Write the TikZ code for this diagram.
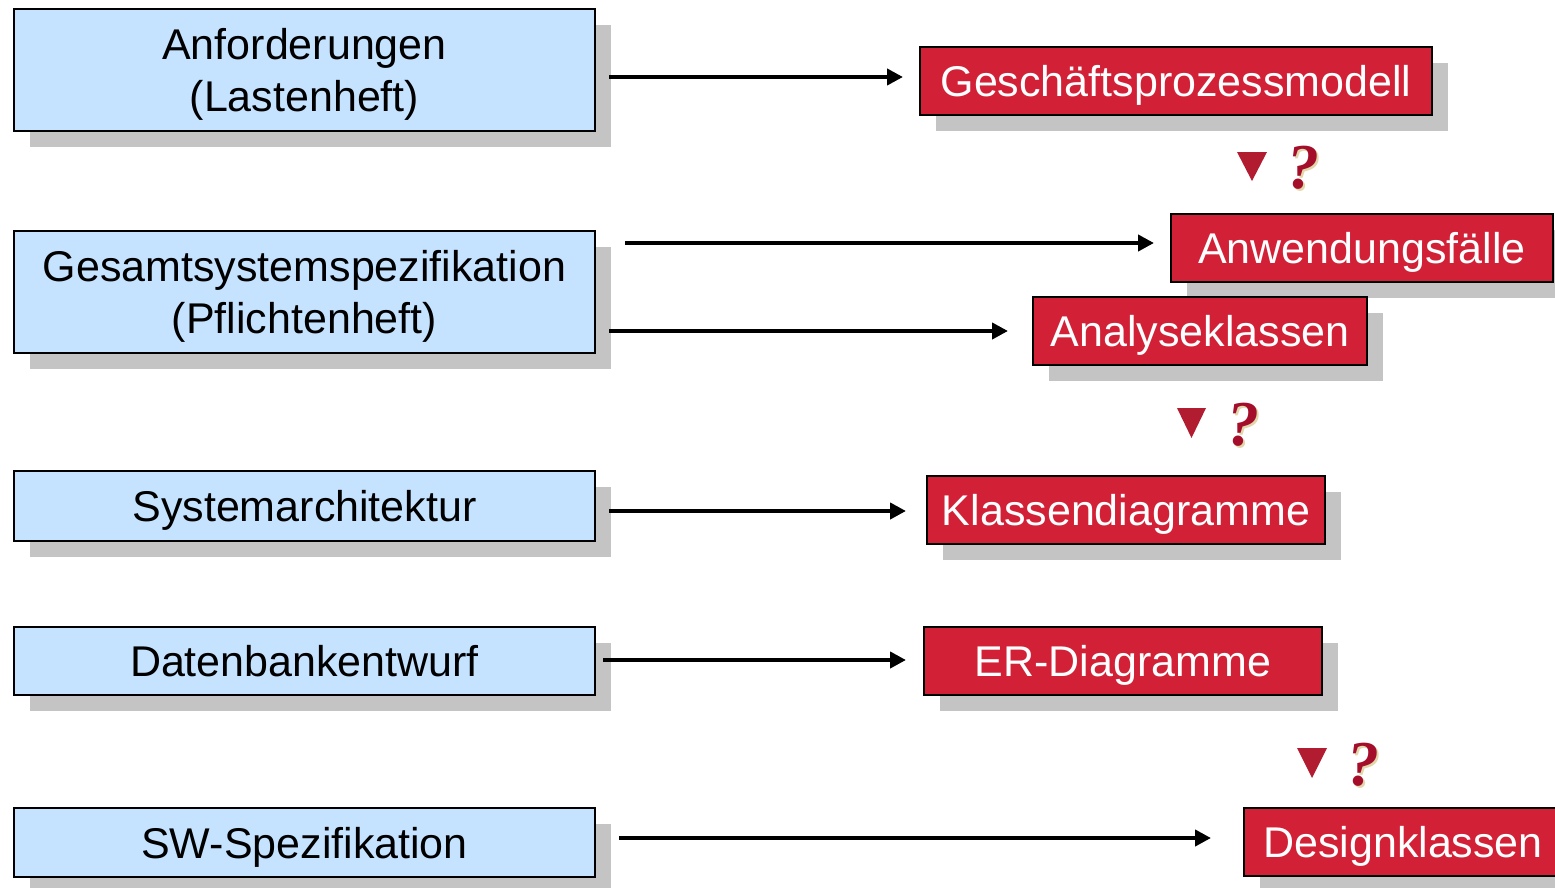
\documentclass[tikz,border=0pt]{standalone}
\usepackage{fontspec}
\setmainfont{Liberation Sans}
\newfontfamily\qfont{Liberation Serif}
\usetikzlibrary{shadows,arrows.meta}
\definecolor{bluefill}{RGB}{197,227,255}
\definecolor{redfill}{RGB}{210,33,55}
\definecolor{trired}{RGB}{178,28,48}
\definecolor{qred}{RGB}{165,14,42}
\definecolor{qglow}{RGB}{225,215,170}
\definecolor{shadowgray}{RGB}{196,196,196}
\begin{document}
\begin{tikzpicture}[x=1pt,y=-1pt,
 shadowed/.style={drop shadow={shadow xshift=16pt,shadow yshift=-16pt,fill=shadowgray,opacity=1}},
 boxbase/.style={draw=black,line width=2pt,anchor=north west,inner sep=0pt,align=center,text depth=0pt,font=\fontsize{43}{52}\selectfont,shadowed},
 bluebox/.style={boxbase,fill=bluefill,text=black},
 redbox/.style={boxbase,fill=redfill,text=white},
 arr/.style={line width=4pt,-{Triangle[length=16pt,width=16pt]}},
 tri/.style={fill=trired},
 qmark/.style={font=\qfont\bfseries\itshape\fontsize{64}{64}\selectfont,inner sep=0pt,text=qred},
 qglowst/.style={font=\qfont\bfseries\itshape\fontsize{64}{64}\selectfont,inner sep=0pt,text=qglow}
]
\useasboundingbox (0,0) rectangle (1555,888);

% left blue boxes
\node[bluebox,minimum width=581pt,minimum height=122pt] (b1) at (13,8) {Anforderungen\\(Lastenheft)};
\node[bluebox,minimum width=581pt,minimum height=122pt] (b2) at (13,230) {Gesamtsystemspezifikation\\(Pflichtenheft)};
\node[bluebox,minimum width=581pt,minimum height=70pt] (b3) at (13,470) {Systemarchitektur};
\node[bluebox,minimum width=581pt,minimum height=68pt] (b4) at (13,626) {Datenbankentwurf};
\node[bluebox,minimum width=581pt,minimum height=69pt] (b5) at (13,807) {SW-Spezifikation};

% right red boxes
\node[redbox,minimum width=512pt,minimum height=68pt] (r1) at (919,46) {Geschäftsprozessmodell};
\node[redbox,minimum width=382pt,minimum height=68pt] (r2) at (1170,213) {Anwendungsfälle};
\node[redbox,minimum width=334pt,minimum height=68pt] (r3) at (1032,296) {Analyseklassen};
\node[redbox,minimum width=398pt,minimum height=68pt] (r4) at (926,475) {Klassendiagramme};
\node[redbox,minimum width=398pt,minimum height=68pt] (r5) at (923,626) {ER-Diagramme};
\node[redbox,minimum width=318pt,minimum height=68pt] (r6) at (1243,807) {Designklassen};

% arrows
\coordinate (a1s) at (609,77);  \coordinate (a1e) at (903,77);
\coordinate (a2s) at (625,243); \coordinate (a2e) at (1154,243);
\coordinate (a3s) at (609,331); \coordinate (a3e) at (1008,331);
\coordinate (a4s) at (609,511); \coordinate (a4e) at (906,511);
\coordinate (a5s) at (603,660); \coordinate (a5e) at (906,660);
\coordinate (a6s) at (619,838); \coordinate (a6e) at (1211,838);
\draw[arr] (a1s) -- (a1e);
\draw[arr] (a2s) -- (a2e);
\draw[arr] (a3s) -- (a3e);
\draw[arr] (a4s) -- (a4e);
\draw[arr] (a5s) -- (a5e);
\draw[arr] (a6s) -- (a6e);

% triangles and question marks
\fill[tri] (1237,152) -- (1267,152) -- (1252,181) -- cycle;
\fill[tri] (1177,408) -- (1206,408) -- (1191.5,438) -- cycle;
\fill[tri] (1297,748) -- (1327,748) -- (1312,778) -- cycle;
\node[qglowst] (q1g) at (1305,170) {?};
\node[qmark] (q1) at (1303,168) {?};
\node[qglowst] (q2g) at (1245,427) {?};
\node[qmark] (q2) at (1243,425) {?};
\node[qglowst] (q3g) at (1365,767) {?};
\node[qmark] (q3) at (1363,765) {?};
\end{tikzpicture}
\end{document}
